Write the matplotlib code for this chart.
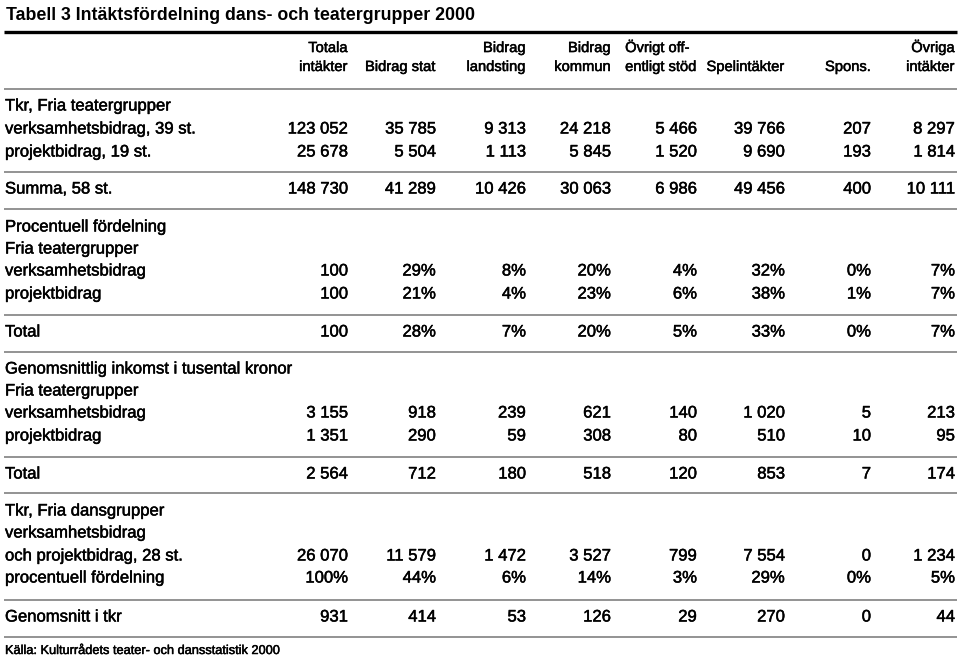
"""Tabell 3: Intäktsfördelning dans- och teatergrupper 2000."""

import matplotlib.pyplot as plt
import matplotlib.patheffects as pe

plt.rcParams["font.family"] = ["Liberation Sans", "DejaVu Sans"]

title = "Tabell 3 Intäktsfördelning dans- och teatergrupper 2000"
source = "Källa: Kulturrådets teater- och dansstatistik 2000"

columns = [
    "Totala\nintäkter", "Bidrag stat", "Bidrag\nlandsting", "Bidrag\nkommun",
    "Övrigt off-\nentligt stöd", "Spelintäkter", "Spons.", "Övriga\nintäkter",
]

teater_verks = ["123 052", "35 785", "9 313", "24 218", "5 466", "39 766", "207", "8 297"]
teater_proj = ["25 678", "5 504", "1 113", "5 845", "1 520", "9 690", "193", "1 814"]
teater_summa = ["148 730", "41 289", "10 426", "30 063", "6 986", "49 456", "400", "10 111"]

pct_verks = ["100", "29%", "8%", "20%", "4%", "32%", "0%", "7%"]
pct_proj = ["100", "21%", "4%", "23%", "6%", "38%", "1%", "7%"]
pct_total = ["100", "28%", "7%", "20%", "5%", "33%", "0%", "7%"]

avg_verks = ["3 155", "918", "239", "621", "140", "1 020", "5", "213"]
avg_proj = ["1 351", "290", "59", "308", "80", "510", "10", "95"]
avg_total = ["2 564", "712", "180", "518", "120", "853", "7", "174"]

dans_tkr = ["26 070", "11 579", "1 472", "3 527", "799", "7 554", "0", "1 234"]
dans_pct = ["100%", "44%", "6%", "14%", "3%", "29%", "0%", "5%"]
dans_avg = ["931", "414", "53", "126", "29", "270", "0", "44"]

rows = [
    ("Tkr, Fria teatergrupper", None),
    ("verksamhetsbidrag, 39 st.", teater_verks),
    ("projektbidrag, 19 st.", teater_proj),
    ("Summa, 58 st.", teater_summa),
    ("Procentuell fördelning", None),
    ("Fria teatergrupper", None),
    ("verksamhetsbidrag", pct_verks),
    ("projektbidrag", pct_proj),
    ("Total", pct_total),
    ("Genomsnittlig inkomst i tusental kronor", None),
    ("Fria teatergrupper", None),
    ("verksamhetsbidrag", avg_verks),
    ("projektbidrag", avg_proj),
    ("Total", avg_total),
    ("Tkr, Fria dansgrupper", None),
    ("verksamhetsbidrag", None),
    ("och projektbidrag, 28 st.", dans_tkr),
    ("procentuell fördelning", dans_pct),
    ("Genomsnitt i tkr", dans_avg),
]

# layout in pixels (figure is 960 x 658)
row_y = [106, 129, 152, 189, 227, 249, 271, 294, 332, 369, 391, 413, 436, 474,
         511, 533, 556, 578, 617]
col_right = [348, 436, 526, 611, 697, 785, 871, 955]
rule_y = [89, 172, 209, 315, 352, 457, 493, 600, 637]

# slight stroke to mimic the heavier print of the original
heavy = [pe.withStroke(linewidth=0.35, foreground="black")]

fig = plt.figure(figsize=(9.6, 6.58), dpi=100)
ax = fig.add_axes([0, 0, 1, 1])
ax.set_xlim(0, 960)
ax.set_ylim(658, 0)
ax.axis("off")

ax.text(6, 16, title, fontsize=12.8, fontweight="bold", ha="left", va="center")
ax.plot([4, 957], [32, 32], color="black", lw=2.4, solid_capstyle="butt")
for y in rule_y:
    ax.plot([4, 957], [y, y], color="#8a8a8a", lw=1.3, solid_capstyle="butt")

for x, name in zip(col_right, columns):
    align = "left" if name.startswith("Övrigt") else "right"
    ax.text(x, 71, name, fontsize=10.6, ha="right", va="baseline",
            multialignment=align, linespacing=1.45, path_effects=heavy)

for y, (label, values) in zip(row_y, rows):
    ax.text(5, y, label, fontsize=12, ha="left", va="center", path_effects=heavy)
    if values is None:
        continue
    for x, v in zip(col_right, values):
        ax.text(x, y, v, fontsize=12, ha="right", va="center", path_effects=heavy)

ax.text(5, 651, source, fontsize=9.2, ha="left", va="center", path_effects=heavy)

fig.savefig("out.png", dpi=100)
